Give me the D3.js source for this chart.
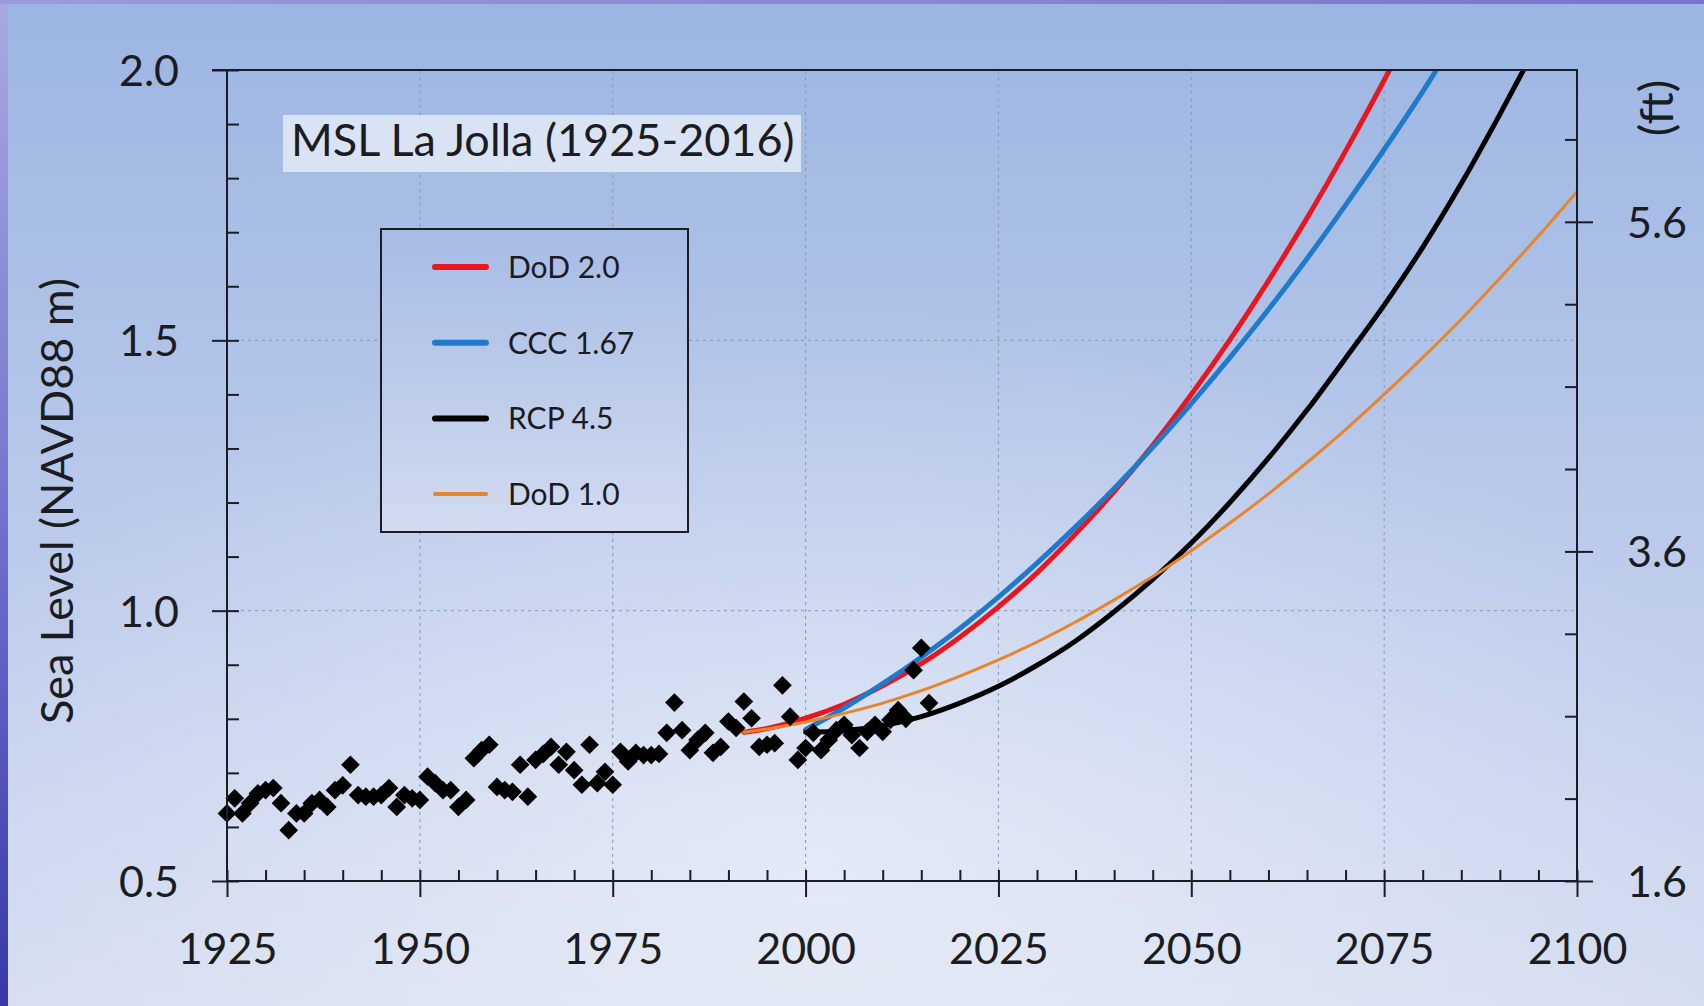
<!DOCTYPE html>
<html>
<head>
<meta charset="utf-8">
<script src="https://cdn.jsdelivr.net/npm/d3@7"></script>
<style>
	html, body { margin: 0; padding: 0; background: #c6d3ee; }
	svg { display: block; }
	text { font-family: "Lato", "Open Sans", sans-serif; fill: #1b1b22; }
</style>
</head>
<body>
<svg id="chart"></svg>
<script>
// observed annual mean sea level, La Jolla (m, NAVD88)
var obsYears = d3.range(1925, 2017);
var obsLevels = [
	0.625, 0.653, 0.625, 0.644, 0.662, 0.668, 0.672, 0.644, 0.594, 0.625,
	0.625, 0.644, 0.650, 0.637, 0.668, 0.677, 0.715, 0.659, 0.656, 0.656,
	0.659, 0.672, 0.637, 0.659, 0.653, 0.650, 0.693, 0.681, 0.668, 0.668,
	0.637, 0.650, 0.727, 0.742, 0.752, 0.674, 0.668, 0.665, 0.715, 0.656,
	0.724, 0.735, 0.748, 0.715, 0.739, 0.705, 0.678, 0.752, 0.681, 0.702,
	0.678, 0.739, 0.721, 0.737, 0.733, 0.733, 0.735, 0.774, 0.830, 0.779,
	0.742, 0.761, 0.774, 0.737, 0.748, 0.795, 0.783, 0.832, 0.801, 0.748,
	0.752, 0.755, 0.862, 0.804, 0.724, 0.746, 0.774, 0.742, 0.761, 0.779,
	0.789, 0.770, 0.746, 0.776, 0.789, 0.776, 0.798, 0.816, 0.800, 0.890,
	0.931, 0.829
];

// projection curves (m)
var dod2Years = [1992, 1995, 2000, 2005, 2010, 2015, 2020, 2025, 2030, 2035, 2040, 2045, 2050, 2055, 2060, 2065, 2070, 2075, 2076];
var dod2Levels = [0.775, 0.782, 0.801, 0.827, 0.861, 0.902, 0.951, 1.007, 1.070, 1.142, 1.220, 1.306, 1.400, 1.501, 1.610, 1.726, 1.850, 1.981, 2.008];

var cccYears = [2000, 2005, 2010, 2015, 2020, 2025, 2030, 2035, 2040, 2045, 2050, 2055, 2060, 2065, 2070, 2075, 2080, 2082];
var cccLevels = [0.780, 0.820, 0.865, 0.914, 0.967, 1.025, 1.088, 1.155, 1.226, 1.302, 1.383, 1.468, 1.557, 1.651, 1.750, 1.853, 1.960, 2.005];

var rcpYears = [2000, 2005, 2010, 2015, 2020, 2025, 2030, 2035, 2040, 2045, 2050, 2055, 2060, 2065, 2070, 2075, 2080, 2085, 2090, 2094];
var rcpLevels = [0.775, 0.778, 0.787, 0.804, 0.829, 0.860, 0.899, 0.944, 0.998, 1.058, 1.125, 1.200, 1.282, 1.371, 1.467, 1.565, 1.672, 1.790, 1.918, 2.025];

var dod1Years = [1992, 1995, 2000, 2005, 2010, 2015, 2020, 2025, 2030, 2035, 2040, 2045, 2050, 2055, 2060, 2065, 2070, 2075, 2080, 2085, 2090, 2095, 2100];
var dod1Levels = [0.775, 0.781, 0.794, 0.810, 0.829, 0.852, 0.879, 0.909, 0.942, 0.979, 1.020, 1.063, 1.111, 1.162, 1.216, 1.274, 1.335, 1.400, 1.468, 1.539, 1.615, 1.693, 1.775];

var seriesNames = ["DoD 2.0", "CCC 1.67", "RCP 4.5", "DoD 1.0"];

// tick labels
var xLabels = [1925, 1950, 1975, 2000, 2025, 2050, 2075, 2100];
var yLabels = [0.5, 1.0, 1.5, 2.0];
var ftLabels = [1.6, 3.6, 5.6];
var ftMinor = [1.6, 2.1, 2.6, 3.1, 3.6, 4.1, 4.6, 5.1, 5.6, 6.1];


// set up the svg
var w = 1704;
var h = 1006;
// (note: "top" is taken by window.top, so the plot box gets its own names)
var plotL = 227, plotR = 1577, plotT = 70, plotB = 881;

var svg = d3.select("#chart").attr("width", w).attr("height", h);
var defs = svg.append("defs");

var bgGrad = defs.append("linearGradient").attr("id", "bg").attr("x1", 0).attr("y1", 0).attr("x2", 0).attr("y2", 1);
bgGrad.append("stop").attr("offset", "0%").attr("stop-color", "#9bb5e2");
bgGrad.append("stop").attr("offset", "55%").attr("stop-color", "#bccbeb");
bgGrad.append("stop").attr("offset", "100%").attr("stop-color", "#d5ddf0");

var glow = defs.append("radialGradient").attr("id", "glow").attr("cx", 0.48).attr("cy", 0.85).attr("r", 0.55);
glow.append("stop").attr("offset", "0%").attr("stop-color", "#ffffff").attr("stop-opacity", 0.45);
glow.append("stop").attr("offset", "100%").attr("stop-color", "#ffffff").attr("stop-opacity", 0);

var sideGrad = defs.append("linearGradient").attr("id", "side").attr("x1", 0).attr("y1", 0).attr("x2", 0).attr("y2", 1);
sideGrad.append("stop").attr("offset", "0%").attr("stop-color", "#a9a9e0");
sideGrad.append("stop").attr("offset", "50%").attr("stop-color", "#7474cc");
sideGrad.append("stop").attr("offset", "100%").attr("stop-color", "#3838a8");

var topGrad = defs.append("linearGradient").attr("id", "topbar").attr("x1", 0).attr("y1", 0).attr("x2", 1).attr("y2", 0);
topGrad.append("stop").attr("offset", "0%").attr("stop-color", "#9a9adc");
topGrad.append("stop").attr("offset", "100%").attr("stop-color", "#7676cc");

var legGrad = defs.append("linearGradient").attr("id", "leg").attr("x1", 0).attr("y1", 0).attr("x2", 0).attr("y2", 1);
legGrad.append("stop").attr("offset", "0%").attr("stop-color", "#a6bbe5");
legGrad.append("stop").attr("offset", "100%").attr("stop-color", "#d2dbf0");

defs.append("clipPath").attr("id", "plotclip")
	.append("rect").attr("x", plotL).attr("y", plotT).attr("width", plotR - plotL).attr("height", plotB - plotT);

svg.append("rect").attr("width", w).attr("height", h).attr("fill", "url(#bg)");
svg.append("rect").attr("width", w).attr("height", h).attr("fill", "url(#glow)");
svg.append("rect").attr("width", 8).attr("height", h).attr("fill", "url(#side)");
svg.append("rect").attr("width", w).attr("height", 4).attr("fill", "url(#topbar)");

// scales
var x = d3.scaleLinear().domain([1925, 2100]).range([plotL, plotR]);
var y = d3.scaleLinear().domain([0.5, 2.0]).range([plotB, plotT]);
// feet axis: bottom labelled 1.6 ft, 1 ft = 0.3048 m
var yFt = d3.scaleLinear().domain([1.6, 1.6 + 1.5 / 0.3048]).range([plotB, plotT]);

// dotted grid
var grid = svg.append("g").attr("stroke", "#8797b0").attr("stroke-width", 1).attr("stroke-dasharray", "3,4");
grid.selectAll("line.vx")
	.data(xLabels.slice(1, -1))
	.enter().append("line")
	.attr("x1", function(d) { return x(d); }).attr("x2", function(d) { return x(d); })
	.attr("y1", plotT).attr("y2", plotB);
grid.selectAll("line.hy")
	.data(yLabels.slice(1, -1))
	.enter().append("line")
	.attr("y1", function(d) { return y(d); }).attr("y2", function(d) { return y(d); })
	.attr("x1", plotL).attr("x2", plotR);

// title box
svg.append("rect").attr("x", 283).attr("y", 115).attr("width", 518).attr("height", 57)
	.attr("fill", "#e6edf8").attr("fill-opacity", 0.8);
svg.append("text").attr("x", 291).attr("y", 156).attr("font-size", 45)
	.text("MSL La Jolla (1925-2016)");

// legend
var legend = svg.append("g");
legend.append("rect").attr("x", 381).attr("y", 229).attr("width", 307).attr("height", 303)
	.attr("fill", "url(#leg)").attr("stroke", "#1c1c26").attr("stroke-width", 2);

var colors = ["#e8161e", "#1f7acb", "#000000", "#e8842c"];
var widths = [5, 5, 5, 3];

var legItems = legend.selectAll("g.item")
	.data(seriesNames)
	.enter().append("g")
	.attr("transform", function(d, i) { return "translate(0," + (267 + i * 75.7) + ")"; });
legItems.append("line")
	.attr("x1", 435).attr("x2", 486)
	.attr("stroke", function(d, i) { return colors[i]; })
	.attr("stroke-width", function(d, i) { return widths[i] + 1; })
	.attr("stroke-linecap", "round");
legItems.append("text")
	.attr("x", 508).attr("y", 11).attr("font-size", 30)
	.text(function(d) { return d; });

// projections
var curves = [
	{ years: dod2Years, levels: dod2Levels },
	{ years: cccYears, levels: cccLevels },
	{ years: rcpYears, levels: rcpLevels },
	{ years: dod1Years, levels: dod1Levels }
];

var line = d3.line()
	.x(function(d) { return x(d[0]); })
	.y(function(d) { return y(d[1]); })
	.curve(d3.curveMonotoneX);

var lines = svg.append("g").attr("clip-path", "url(#plotclip)");

// observations (rotated squares)
var diamond = d3.symbol().type(d3.symbolSquare).size(175);
svg.append("g")
	.selectAll("path")
	.data(obsYears)
	.enter().append("path")
	.attr("d", diamond)
	.attr("transform", function(d, i) { return "translate(" + x(d) + "," + y(obsLevels[i]) + ") rotate(45)"; })
	.attr("fill", "#000");

lines.selectAll("path")
	.data(curves)
	.enter().append("path")
	.attr("d", function(c) { return line(d3.zip(c.years, c.levels)); })
	.attr("fill", "none")
	.attr("stroke", function(c, i) { return colors[i]; })
	.attr("stroke-width", function(c, i) { return widths[i]; })
	.attr("stroke-linecap", "round");

// axes
function clean(g) {
	g.select(".domain").remove();
	g.selectAll(".tick line").attr("stroke", "#1c1c26").attr("stroke-width", 2);
	g.selectAll(".tick text").attr("font-family", "Lato, sans-serif").attr("fill", "#1b1b22");
}

// x axis: minor inward ticks, major ticks crossing
svg.append("g").attr("transform", "translate(0," + plotB + ")")
	.call(d3.axisBottom(x).tickValues(d3.range(1925, 2101, 5)).tickSize(-11).tickFormat(""))
	.call(clean);
svg.append("g").attr("transform", "translate(0," + plotB + ")")
	.call(d3.axisBottom(x).tickValues(xLabels).tickSize(16).tickPadding(67).tickFormat(d3.format("d")))
	.call(clean)
	.selectAll(".tick text").attr("font-size", 43).attr("dy", 0);

// left axis (m)
svg.append("g").attr("transform", "translate(" + plotL + ",0)")
	.call(d3.axisLeft(y).tickValues(d3.range(0.5, 2.01, 0.1)).tickSize(-12).tickFormat(""))
	.call(clean);
svg.append("g").attr("transform", "translate(" + plotL + ",0)")
	.call(d3.axisLeft(y).tickValues(yLabels).tickSize(15).tickPadding(33).tickFormat(d3.format(".1f")))
	.call(clean)
	.selectAll(".tick text").attr("font-size", 43).attr("dy", "0.36em");

// right axis (ft)
svg.append("g").attr("transform", "translate(" + plotR + ",0)")
	.call(d3.axisRight(yFt).tickValues(ftMinor).tickSize(-12).tickFormat(""))
	.call(clean);
svg.append("g").attr("transform", "translate(" + plotR + ",0)")
	.call(d3.axisRight(yFt).tickValues(ftLabels).tickSize(16).tickPadding(34).tickFormat(d3.format(".1f")))
	.call(clean)
	.selectAll(".tick text").attr("font-size", 43).attr("dy", "0.36em");

// frame
svg.append("rect").attr("x", plotL).attr("y", plotT).attr("width", plotR - plotL).attr("height", plotB - plotT)
	.attr("fill", "none").attr("stroke", "#1c1c26").attr("stroke-width", 2);
svg.append("line").attr("x1", plotL - 15).attr("x2", plotL).attr("y1", plotT).attr("y2", plotT)
	.attr("stroke", "#1c1c26").attr("stroke-width", 2);

// axis titles
svg.append("text")
	.attr("transform", "translate(73,501) rotate(-90)")
	.attr("text-anchor", "middle").attr("font-size", 45)
	.text("Sea Level (NAVD88 m)");
svg.append("text")
	.attr("transform", "translate(1673,108) rotate(-90)")
	.attr("text-anchor", "middle").attr("font-size", 47)
	.text("(ft)");
</script>
</body>
</html>
